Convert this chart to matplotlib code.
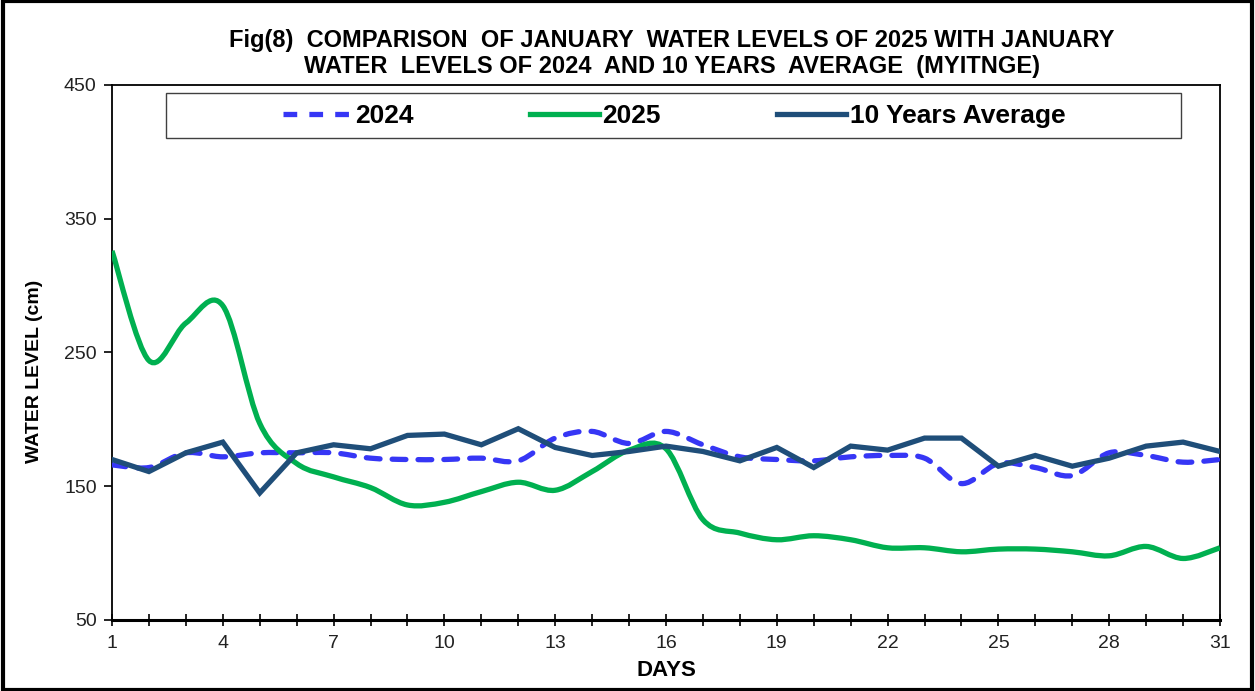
import matplotlib
matplotlib.use('Agg')
import matplotlib.pyplot as plt
from matplotlib.path import Path
from matplotlib.patches import PathPatch, Rectangle
from matplotlib.lines import Line2D
import numpy as np

plt.rcParams['font.family'] = ['Liberation Sans', 'DejaVu Sans']

# January water levels at Myitnge (cm)
days = list(range(1, 32))
level_2024 = [166, 164, 175, 172, 175, 175, 175, 171, 170, 170, 171, 169, 186, 191, 182, 191,
              181, 172, 170, 169, 172, 173, 171, 152, 167, 164, 158, 175, 173, 168, 170]
level_2025 = [326, 244, 272, 285, 197, 167, 157, 149, 136, 138, 146, 153, 147, 161, 177, 178,
              125, 115, 110, 113, 110, 104, 104, 101, 103, 103, 101, 98, 105, 96, 104]
level_avg = [170, 161, 175, 183, 145, 175, 181, 178, 188, 189, 181, 193, 179, 173, 176, 180,
             176, 169, 179, 164, 180, 177, 186, 186, 165, 173, 165, 171, 180, 183, 176]

xtick_labels = [str(d) if (d - 1) % 3 == 0 else '' for d in days]
yticks = [50, 150, 250, 350, 450]

c2024 = '#3636F5'
c2025 = '#00B050'
cavg = '#1F4E79'
dash = (0, (2.6, 2.3))


def smooth_path(x, y):
    # excel-style smoothed line: bezier segments through the points
    x = np.asarray(x, float)
    y = np.asarray(y, float)
    verts = [(x[0], y[0])]
    codes = [Path.MOVETO]
    n = len(x)
    for i in range(n - 1):
        p0 = np.array([x[max(i - 1, 0)], y[max(i - 1, 0)]])
        p1 = np.array([x[i], y[i]])
        p2 = np.array([x[i + 1], y[i + 1]])
        p3 = np.array([x[min(i + 2, n - 1)], y[min(i + 2, n - 1)]])
        c1 = p1 + (p2 - p0) / 6.0
        c2 = p2 - (p3 - p1) / 6.0
        verts += [tuple(c1), tuple(c2), tuple(p2)]
        codes += [Path.CURVE4] * 3
    return Path(verts, codes)


fig = plt.figure(figsize=(12.55, 6.91), dpi=100)
ax = fig.add_axes([112 / 1255, 1 - 620 / 691, (1220 - 112) / 1255, (620 - 85) / 691])

ax.add_patch(PathPatch(smooth_path(days, level_2024), fill=False, edgecolor=c2024, lw=3.8,
                       linestyle=dash, capstyle='round', zorder=3))
ax.add_patch(PathPatch(smooth_path(days, level_2025), fill=False, edgecolor=c2025, lw=3.8,
                       zorder=3))
ax.plot(days, level_avg, color=cavg, lw=3.8, zorder=4, solid_joinstyle='miter')

ax.set_xlim(1, 31)
ax.set_ylim(50, 450)
ax.set_xticks(days)
ax.set_xticklabels(xtick_labels)
ax.set_yticks(yticks)
ax.set_yticklabels([str(v) for v in yticks])
ax.tick_params(axis='x', direction='inout', length=8, width=1.2, pad=7,
               labelsize=14, labelcolor='#222222')
ax.tick_params(axis='y', direction='out', length=6, width=1.2, pad=5,
               labelsize=14, labelcolor='#222222')
for s in ax.spines.values():
    s.set_linewidth(1.3)
ax.spines['bottom'].set_linewidth(2.2)

ax.set_xlabel('DAYS', fontsize=16, fontweight='bold')
ax.xaxis.set_label_coords(0.5, -(670 - 620) / 535, transform=ax.transAxes)
ax.xaxis.label.set_va('center')
ax.set_ylabel('WATER LEVEL (cm)', fontsize=14, fontweight='bold')
ax.yaxis.set_label_coords(-(112 - 34) / 1108, 1 - (371 - 85) / 535, transform=ax.transAxes)
ax.yaxis.label.set_va('center')

fig.text(0.5355, 1 - 40 / 691, 'Fig(8)  COMPARISON  OF JANUARY  WATER LEVELS OF 2025 WITH JANUARY',
         ha='center', va='center', fontsize=17, fontweight='bold')
fig.text(0.5355, 1 - 67 / 691, 'WATER  LEVELS OF 2024  AND 10 YEARS  AVERAGE  (MYITNGE)',
         ha='center', va='center', fontsize=17, fontweight='bold')

# legend box drawn separately, entries centred inside it
ax.add_patch(Rectangle(((166 - 112) / 1108, 1 - (138 - 85) / 535), (1181 - 166) / 1108,
                       (138 - 93) / 535, transform=ax.transAxes, fill=True, facecolor='white',
                       edgecolor='#404040', lw=1.0, zorder=5))
handles = [Line2D([], [], color=c2024, lw=3.8, linestyle=dash),
           Line2D([], [], color=c2025, lw=3.8),
           Line2D([], [], color=cavg, lw=3.8)]
leg = ax.legend(handles, ['2024', '2025', '10 Years Average'], ncol=3,
                loc='center', bbox_to_anchor=((674 - 112) / 1108, 1 - (116 - 85) / 535),
                prop={'weight': 'bold', 'size': 19}, frameon=False,
                handlelength=2.6, handletextpad=0.15, columnspacing=4.4)
leg.set_zorder(6)

fig.patches.append(Rectangle((0.002, 0.002), 0.996, 0.996, transform=fig.transFigure,
                             fill=False, edgecolor='black', lw=3))

fig.savefig('out.png', dpi=100)
